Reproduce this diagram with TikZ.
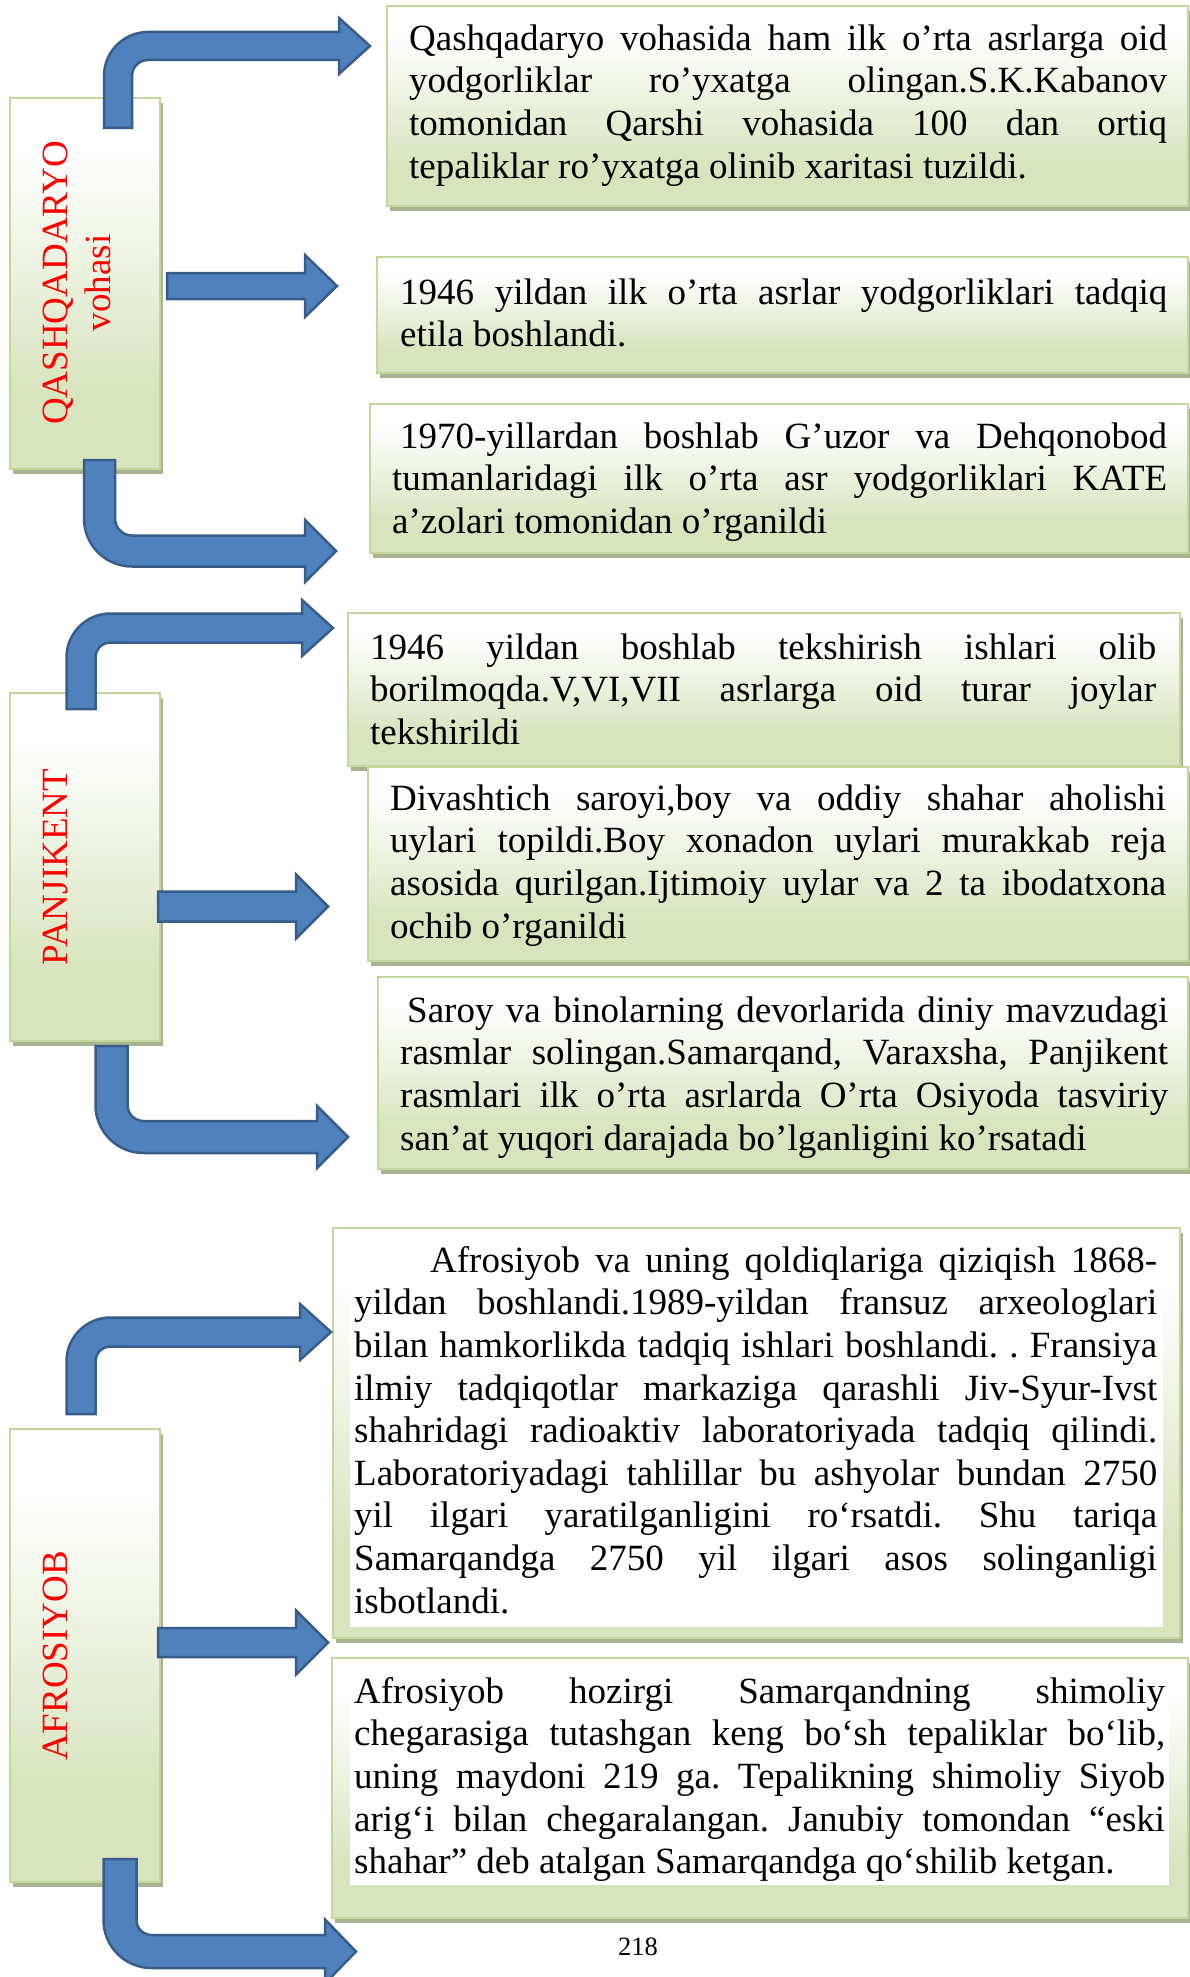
\documentclass[tikz,border=0pt]{standalone}
\usepackage{fontspec}
\setmainfont{Liberation Serif}
\usetikzlibrary{shadows}
\definecolor{bordc}{HTML}{C3D69B}
\definecolor{lgB}{HTML}{D7E4BD}
\definecolor{shc}{HTML}{A8B491}
\definecolor{arF}{HTML}{4F81BD}
\definecolor{arD}{HTML}{385D8A}
\pgfdeclareverticalshading{lgrad}{100bp}{color(0bp)=(lgB); color(35bp)=(lgB); color(68bp)=(white); color(100bp)=(white)}
\newcommand\LW{100pt}
\newcommand\JL[1]{\leavevmode\hbox to \LW{\spaceskip=0pt\xspaceskip=0pt #1}\\}
% up then right bent arrow: cx, ybottom, cy, tipx, w, h, R
\newcommand\ArUR[7]{%
\draw[barrow] ({#1-#5},#2) -- ({#1-#5},{#3-#5+#7}) .. controls ({#1-#5},{#3-#5+0.448*#7}) and ({#1-#5+0.448*#7},{#3-#5}) .. ({#1-#5+#7},{#3-#5}) -- ({#4-31},{#3-#5}) -- ({#4-31},{#3-#6}) -- (#4,#3) -- ({#4-31},{#3+#6}) -- ({#4-31},{#3+#5}) -- ({#1+#7-#5},{#3+#5}) .. controls ({#1+#5+0.448*(#7-2*#5)},{#3+#5}) and ({#1+#5},{#3+#5+0.448*(#7-2*#5)}) .. ({#1+#5},{#3+#7-#5}) -- ({#1+#5},#2) -- cycle;}
% down then right bent arrow: cx, ytop, cy, tipx, w, h, R
\newcommand\ArDR[7]{%
\draw[barrow] ({#1-#5},#2) -- ({#1-#5},{#3+#5-#7}) .. controls ({#1-#5},{#3+#5-0.448*#7}) and ({#1-#5+0.448*#7},{#3+#5}) .. ({#1-#5+#7},{#3+#5}) -- ({#4-31},{#3+#5}) -- ({#4-31},{#3+#6}) -- (#4,#3) -- ({#4-31},{#3-#6}) -- ({#4-31},{#3-#5}) -- ({#1+#7-#5},{#3-#5}) .. controls ({#1+#5+0.448*(#7-2*#5)},{#3-#5}) and ({#1+#5},{#3-#5-0.448*(#7-2*#5)}) .. ({#1+#5},{#3-#7+#5}) -- ({#1+#5},#2) -- cycle;}
% straight arrow: x0, cy, tipx, w, h
\newcommand\ArR[5]{%
\draw[barrow] (#1,{#2-#4}) -- ({#3-32},{#2-#4}) -- ({#3-32},{#2-#5}) -- (#3,#2) -- ({#3-32},{#2+#5}) -- ({#3-32},{#2+#4}) -- (#1,{#2+#4}) -- cycle;}
\begin{document}
\frenchspacing
\begin{tikzpicture}[x=1pt,y=-1pt,
  gbox/.style={draw=bordc, line width=2.5pt, shade, shading=lgrad,
    drop shadow={shadow xshift=3pt, shadow yshift=-5pt, fill=shc, opacity=1},
    inner sep=0pt, outer sep=0pt, anchor=north west},
  hl/.style={fill=white, inner sep=0pt, outer sep=0pt, anchor=north west},
  txt/.style={font=\fontsize{37}{42.6}\selectfont\frenchspacing, align=justify, inner sep=0pt, anchor=north west,
    text width=#1, execute at begin node={\renewcommand\LW{#1}}},
  lbl/.style={font=\fontsize{37}{42.6}\selectfont, text=red, rotate=90, anchor=base, inner sep=0pt},
  barrow/.style={fill=arF, draw=arD, line width=2.5pt, line join=miter}]
\useasboundingbox (0,0) rectangle (1190,1977);
\fill[white] (0,0) rectangle (1190,1977);

% left category boxes
\node[gbox, minimum width=150pt, minimum height=371pt] (L1) at (10,98) {};
\node[gbox, minimum width=150pt, minimum height=348pt] (L2) at (10,693) {};
\node[gbox, minimum width=150pt, minimum height=453pt] (L3) at (10,1429) {};

% text boxes
\node[gbox, minimum width=801pt, minimum height=200pt] (b1) at (387,6) {};
\node[gbox, minimum width=811pt, minimum height=116pt] (b2) at (377,257) {};
\node[gbox, minimum width=818pt, minimum height=149pt] (b3) at (370,404) {};
\node[gbox, minimum width=832pt, minimum height=153pt] (b4) at (348,613) {};
\node[gbox, minimum width=820pt, minimum height=194pt] (b5) at (368,767) {};
\node[gbox, minimum width=810pt, minimum height=192pt] (b6) at (378,977) {};
\node[gbox, minimum width=847pt, minimum height=410pt] (b7) at (333,1228) {};
\node[gbox, minimum width=856pt, minimum height=260pt] (b8) at (332,1658) {};
\node[hl, minimum width=813pt, minimum height=386pt] (w7) at (350,1241) {};
\node[hl, minimum width=819pt, minimum height=213pt] (w8) at (350,1672) {};

% labels
\node[lbl] (q1) at (67,283) {QASHQADARYO};
\node[lbl] (q2) at (110,283) {vohasi};
\node[lbl] (p1) at (67,867) {PANJIKENT};
\node[lbl] (a1) at (67,1656) {AFROSIYOB};

% texts
\node[txt=758pt] (t1) at (409,20.2) {\strut\JL{Qashqadaryo vohasida ham ilk o’rta asrlarga oid}\JL{yodgorliklar ro’yxatga olingan.S.K.Kabanov}\JL{tomonidan Qarshi vohasida 100 dan ortiq}tepaliklar ro’yxatga olinib xaritasi tuzildi.};
\node[txt=767pt] (t2) at (400,274.2) {\strut\JL{1946 yildan ilk o’rta asrlar yodgorliklari tadqiq}etila boshlandi.};
\node[txt=775pt] (t3) at (392,418.2) {\strut\JL{\hspace*{8pt}1970-yillardan boshlab G’uzor va Dehqonobod}\JL{tumanlaridagi ilk o’rta asr yodgorliklari KATE}a’zolari tomonidan o’rganildi};
\node[txt=786pt] (t4) at (370,629.2) {\strut\JL{1946 yildan boshlab tekshirish ishlari olib}\JL{borilmoqda.V,VI,VII asrlarga oid turar joylar}tekshirildi};
\node[txt=776pt] (t5) at (390,780.2) {\strut\JL{Divashtich saroyi,boy va oddiy shahar aholishi}\JL{uylari topildi.Boy xonadon uylari murakkab reja}\JL{asosida qurilgan.Ijtimoiy uylar va 2 ta ibodatxona}ochib o’rganildi};
\node[txt=768pt] (t6) at (400,992.2) {\strut\JL{\hspace*{7pt}Saroy va binolarning devorlarida diniy mavzudagi}\JL{rasmlar solingan.Samarqand, Varaxsha, Panjikent}\JL{rasmlari ilk o’rta asrlarda O’rta Osiyoda tasviriy}san’at yuqori darajada bo’lganligini ko’rsatadi};
\node[txt=803pt] (t7) at (354,1242.2) {\strut\JL{\hspace*{76pt}Afrosiyob va uning qoldiqlariga qiziqish 1868-}\JL{yildan boshlandi.1989-yildan fransuz arxeologlari}\JL{bilan hamkorlikda tadqiq ishlari boshlandi. . Fransiya}\JL{ilmiy tadqiqotlar markaziga qarashli Jiv-Syur-Ivst}\JL{shahridagi radioaktiv laboratoriyada tadqiq qilindi.}\JL{Laboratoriyadagi tahlillar bu ashyolar bundan 2750}\JL{yil ilgari yaratilganligini ro‘rsatdi. Shu tariqa}\JL{Samarqandga 2750 yil ilgari asos solinganligi}isbotlandi.};
\node[txt=811pt] (t8) at (354,1673.2) {\strut\JL{Afrosiyob hozirgi Samarqandning shimoliy}\JL{chegarasiga tutashgan keng bo‘sh tepaliklar bo‘lib,}\JL{uning maydoni 219 ga. Tepalikning shimoliy Siyob}\JL{arig‘i bilan chegaralangan. Janubiy tomondan “eski}shahar” deb atalgan Samarqandga qo‘shilib ketgan.};

% arrows
\ArUR{118}{128}{46}{370}{14}{28}{44}
\ArR{167}{286}{337}{13}{31}
\ArDR{99.5}{460}{551}{336}{15.5}{31}{48}
\ArUR{81}{709}{628}{333}{14.5}{28}{44}
\ArR{158}{906.5}{328}{15}{32}
\ArDR{111.5}{1046}{1137}{348}{16}{31}{48}
\ArUR{81}{1414}{1332}{331}{14.5}{28}{44}
\ArR{158}{1642.5}{328}{14.5}{32}
\ArDR{120}{1859}{1951.5}{356}{16.5}{32}{48}

% page number
\node[font=\fontsize{26.5}{30}\selectfont, anchor=base, inner sep=0pt] (pg) at (638,1955) {218};
\end{tikzpicture}
\end{document}
